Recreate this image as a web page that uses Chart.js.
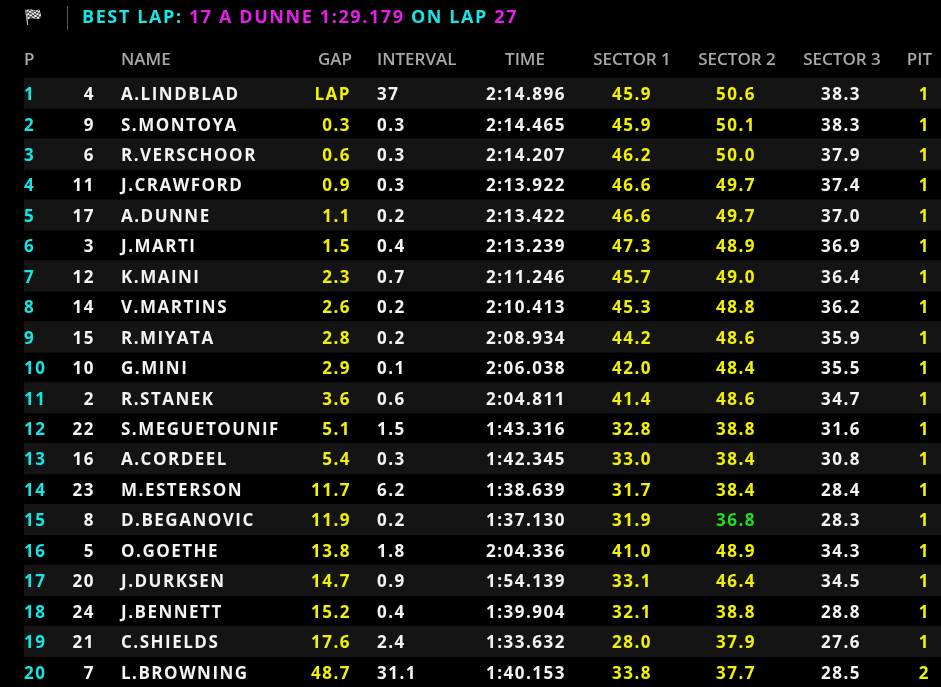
<!DOCTYPE html>
<html><head><meta charset="utf-8">
<script src="https://cdn.jsdelivr.net/npm/chart.js@4"></script>
<style>html,body{margin:0;background:#000;overflow:hidden}#wrap{width:941px;height:687px}</style>
</head><body><div id="wrap"><canvas id="c"></canvas></div>
<script>
// ------------------------- DATA -------------------------
const positions = ['1','2','3','4','5','6','7','8','9','10','11','12','13','14','15','16','17','18','19','20'];
const carNumbers = [4, 9, 6, 11, 17, 3, 12, 14, 15, 10, 2, 22, 16, 23, 8, 5, 20, 24, 21, 7];
const names = ['A.LINDBLAD','S.MONTOYA','R.VERSCHOOR','J.CRAWFORD','A.DUNNE','J.MARTI','K.MAINI','V.MARTINS','R.MIYATA','G.MINI',
  'R.STANEK','S.MEGUETOUNIF','A.CORDEEL','M.ESTERSON','D.BEGANOVIC','O.GOETHE','J.DURKSEN','J.BENNETT','C.SHIELDS','L.BROWNING'];
const gaps = ['LAP','0.3','0.6','0.9','1.1','1.5','2.3','2.6','2.8','2.9','3.6','5.1','5.4','11.7','11.9','13.8','14.7','15.2','17.6','48.7'];
const intervals = ['37','0.3','0.3','0.3','0.2','0.4','0.7','0.2','0.2','0.1','0.6','1.5','0.3','6.2','0.2','1.8','0.9','0.4','2.4','31.1'];
const lapTimes = ['2:14.896','2:14.465','2:14.207','2:13.922','2:13.422','2:13.239','2:11.246','2:10.413','2:08.934','2:06.038',
  '2:04.811','1:43.316','1:42.345','1:38.639','1:37.130','2:04.336','1:54.139','1:39.904','1:33.632','1:40.153'];
const sector1 = ['45.9','45.9','46.2','46.6','46.6','47.3','45.7','45.3','44.2','42.0','41.4','32.8','33.0','31.7','31.9','41.0','33.1','32.1','28.0','33.8'];
const sector2 = ['50.6','50.1','50.0','49.7','49.7','48.9','49.0','48.8','48.6','48.4','48.6','38.8','38.4','38.4','36.8','48.9','46.4','38.8','37.9','37.7'];
const sector3 = ['38.3','38.3','37.9','37.4','37.0','36.9','36.4','36.2','35.9','35.5','34.7','31.6','30.8','28.4','28.3','34.3','34.5','28.8','27.6','28.5'];
const pits = ['1','1','1','1','1','1','1','1','1','1','1','1','1','1','1','1','1','1','1','2'];
const headers = ['P','','NAME','GAP','INTERVAL','TIME','SECTOR 1','SECTOR 2','SECTOR 3','PIT'];
const bestLapSector2 = '36.8';

// ------------------------- LAYOUT -------------------------
const CYAN = '#14e6e6', YELLOW = '#f2f200', WHITE = '#f4f4f4', GREY = '#a8a8a8', MAG = '#e81ee8', GREEN = '#22dd22';
const FONT = '700 17px "Open Sans"';
// column: x, alignment, header x, header alignment
const cols = [
  { x: 24, a: 'left', hx: 24, ha: 'left' },
  { x: 95, a: 'right' },
  { x: 121, a: 'left', hx: 121, ha: 'left' },
  { x: 351, a: 'right', hx: 352, ha: 'right' },
  { x: 377, a: 'left', hx: 377, ha: 'left' },
  { x: 566, a: 'right', hx: 525, ha: 'center' },
  { x: 652, a: 'right', hx: 632, ha: 'center' },
  { x: 756, a: 'right', hx: 737, ha: 'center' },
  { x: 861, a: 'right', hx: 842, ha: 'center' },
  { x: 930, a: 'right', hx: 932, ha: 'right' }
];

const shade = positions.map((_, i) => (i % 2 === 0 ? 941 : 0));

const tablePlugin = {
  id: 'table',
  afterDatasetsDraw(chart) {
    const ctx = chart.ctx, xs = chart.scales.x, ys = chart.scales.y;
    ctx.save();
    ctx.textBaseline = 'middle';

    // title line
    ctx.fillStyle = '#ddd';
    ctx.font = '15px "DejaVu Sans"';
    ctx.textAlign = 'left';
    ctx.fillText('🏁', 24, 18);
    ctx.fillStyle = '#555';
    ctx.fillRect(67, 6, 1, 24);
    ctx.font = '700 18px "Open Sans"';
    ctx.letterSpacing = '1.6px';
    let tx = 82;
    [['BEST LAP: ', CYAN], ['17 A DUNNE 1:29.179 ', MAG], ['ON LAP ', CYAN], ['27', MAG]].forEach(([t, c]) => {
      ctx.fillStyle = c; ctx.fillText(t, tx, 18); tx += ctx.measureText(t).width;
    });

    // header
    ctx.font = '600 17px "Open Sans"';
    ctx.letterSpacing = '0px';
    ctx.fillStyle = GREY;
    headers.forEach((h, j) => {
      if (!h) return;
      ctx.textAlign = cols[j].ha;
      ctx.fillText(h, xs.getPixelForValue(cols[j].hx), 60);
    });

    // rows
    ctx.font = FONT;
    ctx.letterSpacing = '1.5px';
    positions.forEach((p, i) => {
      const y = ys.getPixelForValue(i) + 2;
      const cells = [
        [p, CYAN], [String(carNumbers[i]), WHITE], [names[i], WHITE], [gaps[i], YELLOW], [intervals[i], WHITE],
        [lapTimes[i], WHITE], [sector1[i], YELLOW],
        [sector2[i], (i === 14 && sector2[i] === bestLapSector2) ? GREEN : YELLOW],
        [sector3[i], WHITE], [pits[i], YELLOW]
      ];
      cells.forEach(([t, c], j) => {
        ctx.fillStyle = c;
        ctx.textAlign = cols[j].a;
        ctx.fillText(t, xs.getPixelForValue(cols[j].x), y);
      });
    });
    ctx.restore();
  }
};

new Chart(document.getElementById('c'), {
  type: 'bar',
  data: {
    labels: positions,
    datasets: [{ data: shade, backgroundColor: '#141414', barPercentage: 1, categoryPercentage: 1, base: 24 }]
  },
  options: {
    indexAxis: 'y',
    responsive: true,
    maintainAspectRatio: false,
    animation: false,
    layout: { padding: { top: 78, left: 24, right: 0, bottom: 0 } },
    plugins: { legend: { display: false }, tooltip: { enabled: false } },
    scales: {
      x: { type: 'linear', min: 24, max: 941, display: false },
      y: { display: false }
    }
  },
  plugins: [tablePlugin]
});
</script></body></html>
